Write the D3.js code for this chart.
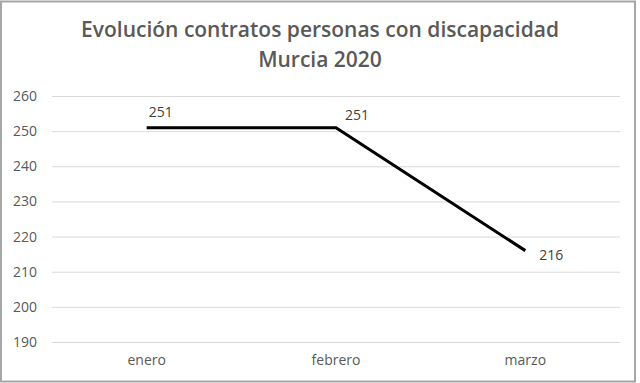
<!DOCTYPE html>
<html><head><meta charset="utf-8">
<script src="https://cdn.jsdelivr.net/npm/d3@7"></script>
<style>body{margin:0;background:#fff}svg{display:block}</style>
</head><body>
<svg id="c" width="640" height="383"></svg>
<script>
const categories = ["enero", "febrero", "marzo"];
const values = [251, 251, 216];
const yTicks = [190, 200, 210, 220, 230, 240, 250, 260];
const titleLines = ["Evolución contratos personas con discapacidad", "Murcia 2020"];

const svg = d3.select("#c");
const W = 640, H = 383;
const font = "'Open Sans', sans-serif";
svg.append("rect").attr("x", 1).attr("y", 1.5).attr("width", 634).attr("height", 380)
  .attr("fill", "#fff").attr("stroke", "#a6a6a6").attr("stroke-width", 2);

const m = {left: 52, right: 620, top: 96, bottom: 342};
const x = d3.scaleBand().domain(categories).range([m.left, m.right]);
const y = d3.scaleLinear().domain([190, 260]).range([m.bottom, m.top]);

const ga = svg.append("g").attr("transform", `translate(${m.left},0)`)
  .call(d3.axisLeft(y).tickValues(yTicks).tickSize(-(m.right - m.left)).tickPadding(15));
ga.select(".domain").remove();
ga.selectAll(".tick line").attr("stroke", "#d9d9d9").attr("stroke-width", 1);
ga.selectAll(".tick text").attr("fill", "#595959").attr("font-family", font).attr("font-size", 14);

const gx = svg.append("g").attr("transform", `translate(0,${m.bottom})`)
  .call(d3.axisBottom(x).tickSize(0).tickPadding(13));
gx.select(".domain").remove();
gx.selectAll(".tick text").attr("fill", "#595959").attr("font-family", font).attr("font-size", 14);

const cx = d => x(d) + x.bandwidth() / 2;
const line = d3.line().x((d, i) => cx(categories[i])).y(d => y(d));
svg.append("path").datum(values).attr("d", line).attr("fill", "none")
  .attr("stroke", "#000").attr("stroke-width", 3).attr("stroke-linejoin", "miter");

const offs = [[2, -16], [9, -13], [14, 4]];
svg.selectAll(".lbl").data(values).enter().append("text")
  .attr("x", (d, i) => cx(categories[i]) + offs[i][0])
  .attr("y", (d, i) => y(d) + offs[i][1])
  .attr("dy", "0.35em")
  .attr("fill", "#404040").attr("font-family", font).attr("font-size", 14)
  .text(d => d);

svg.selectAll(".title").data(titleLines).enter().append("text")
  .attr("x", W / 2).attr("y", (d, i) => 37 + i * 30)
  .attr("text-anchor", "middle").attr("fill", "#595959")
  .attr("font-family", font).attr("font-size", 21).attr("font-weight", 600)
  .text(d => d);
</script>
</body></html>
